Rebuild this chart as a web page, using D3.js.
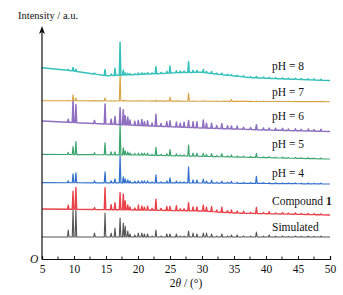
<!DOCTYPE html>
<html lang="en">
<head>
  <meta charset="UTF-8">
  <title>PXRD patterns</title>
  <script src="https://d3js.org/d3.v7.min.js"></script>
  <style>
    body { margin: 0; padding: 0; background: #fff; }
    svg text { font-family: "Liberation Serif", "DejaVu Serif", serif; fill: #111; }
  </style>
</head>
<body>
  <svg id="chart" width="343" height="295"></svg>
  <script>
    // reflection positions, 2θ (°)
    const peakPos = [9.1, 9.85, 10.3, 13.2, 14.85, 15.8, 16.4, 17.2, 17.7, 18.0, 18.4, 18.75,
      19.5, 20.05, 20.6, 21.0, 21.5, 22.2, 22.8, 23.6, 24.5, 25.0, 26.0, 26.6, 27.2, 27.9,
      28.6, 29.2, 30.2, 30.7, 31.5, 32.3, 33.1, 34.0, 34.6, 35.5, 36.5, 37.6, 38.5, 39.6,
      40.5, 41.5, 42.6, 43.5, 44.6, 45.5, 46.6, 47.5, 48.6];

    // peak heights (a.u.) for each pattern, same order as peakPos
    const hSim = [7, 27, 27, 4, 24, 4, 9, 19, 14, 11, 6, 3,
      2, 4, 4, 3, 3, 1, 7, 1, 3, 3, 3, 1, 1, 6,
      4, 3, 4, 4, 3, 1, 3, 1, 2, 2, 1, 1, 5, 0.8,
      2, 0.8, 1, 0.6, 1, 0.6, 0.8, 0.6, 0.8];
    const hComp = [4, 18, 22, 2, 22, 5, 7, 17, 16, 9, 5, 3,
      2, 5, 4, 3, 4, 2, 11, 2, 4, 4, 5, 2, 2, 8,
      4, 4, 6, 4, 5, 2, 5, 2, 3, 2, 2, 1, 6, 1,
      2, 1, 1.5, 1, 1.5, 1, 1, 1, 1];
    const hPH4 = [2, 9, 10, 2, 11, 2, 4, 27, 6, 4, 3, 2,
      1.5, 2, 2, 2, 2, 1, 8, 1, 2, 5, 2, 1, 1, 16,
      3, 3, 4, 2, 3, 1, 2, 1, 2, 1, 1, 1, 7, 0.8,
      1, 0.8, 0.8, 0.6, 0.8, 0.6, 0.8, 0.6, 0.8];
    const hPH5 = [2, 8, 13, 2, 12, 3, 3, 31, 7, 4, 3, 2,
      1.5, 2, 2, 2, 2, 1, 8, 1, 2, 6, 2, 1, 1, 11,
      3, 3, 3, 2, 3, 1, 3, 1, 2, 1, 1, 1, 4, 0.8,
      1, 0.8, 0.8, 0.6, 0.8, 0.6, 0.8, 0.6, 0.8];
    const hPH6 = [3, 23, 18, 3, 20, 5, 8, 17, 15, 9, 8, 5,
      4, 5, 6, 4, 5, 3, 12, 3, 5, 6, 5, 4, 5, 7,
      6, 6, 8, 5, 5, 3, 5, 3, 3, 3, 2, 2, 5, 2,
      2, 2, 2, 1.5, 2, 1.5, 2, 1.5, 2];
    const hPH7 = [0.5, 6, 3, 0.3, 3, 0.3, 0.5, 28, 1, 0.5, 0.3, 0.3,
      0.3, 0.5, 0.3, 0.3, 0.3, 0.3, 1, 0.3, 0.5, 4, 0.5, 0.3, 0.3, 8,
      0.5, 0.3, 0.5, 0.3, 0.3, 0.3, 0.3, 0.3, 2, 0.3, 0.3, 0.3, 0.5, 0.3,
      0.3, 0.3, 0.3, 0.3, 0.3, 0.3, 0.3, 0.3, 0.3];
    const hPH8 = [1, 3.5, 2, 1, 6, 1.5, 7, 33, 5, 2, 1.5, 1,
      1, 1.5, 1.5, 1, 1.5, 1, 7, 1, 2, 7, 2, 1.5, 1.5, 11,
      2, 2, 3, 1.5, 2, 1, 1.5, 1, 1, 1, 1, 1, 1.5, 1,
      1, 1, 1, 1, 1, 1, 1, 1, 1];

    // background level (2θ, a.u.) of each pattern
    const bgSim  = [[5, 22], [50, 22]];
    const bgComp = [[5, 50], [20, 49], [30, 48], [35, 46], [50, 44]];
    const bgPH4  = [[5, 76.3], [30, 76], [50, 75]];
    const bgPH5  = [[5, 104.7], [20, 104], [35, 102], [50, 100]];
    const bgPH6  = [[5, 138], [15, 135], [22, 133], [30, 131], [40, 129], [50, 127.5]];
    const bgPH7  = [[5, 158.3], [50, 157.3]];
    const bgPH8  = [[5, 191.3], [10, 188], [15, 183.3], [20, 184.5], [27, 186.5], [30, 186.7],
      [32.5, 184.7], [37.8, 181.3], [43, 180], [50, 178.5]];

    const seriesNames = ["Simulated", "Compound 1", "pH = 4", "pH = 5", "pH = 6", "pH = 7", "pH = 8"];
    const xTicks = [5, 10, 15, 20, 25, 30, 35, 40, 45, 50];

    const series = [
      { name: seriesNames[0], h: hSim,  bg: bgSim,  color: "#545454", width: 1.1, labelY: 231 },
      { name: seriesNames[1], h: hComp, bg: bgComp, color: "#e8434a", width: 1.4, labelY: 205 },
      { name: seriesNames[2], h: hPH4,  bg: bgPH4,  color: "#3170cc", width: 1.2, labelY: 177 },
      { name: seriesNames[3], h: hPH5,  bg: bgPH5,  color: "#3ba56f", width: 1.2, labelY: 148 },
      { name: seriesNames[4], h: hPH6,  bg: bgPH6,  color: "#8f70c0", width: 1.5, labelY: 120 },
      { name: seriesNames[5], h: hPH7,  bg: bgPH7,  color: "#d8a243", width: 1.1, labelY: 96 },
      { name: seriesNames[6], h: hPH8,  bg: bgPH8,  color: "#36c2bb", width: 1.5, labelY: 70 }
    ];

    const svg = d3.select("#chart");
    const x = d3.scaleLinear().domain([5, 50]).range([42, 330]);
    const y = d3.scaleLinear().domain([0, 232]).range([259, 27]);

    const line = d3.line().x(d => x(d[0])).y(d => y(d[1]));
    const hw = 0.12;

    series.forEach(s => {
      const base = d3.scaleLinear().domain(s.bg.map(d => d[0])).range(s.bg.map(d => d[1]));
      const pts = s.bg.map(d => [d[0], d[1]]);
      peakPos.forEach((p, i) => {
        const h = s.h[i];
        if (!h) return;
        pts.push([p - hw, base(p - hw)], [p, base(p) + h], [p + hw, base(p + hw)]);
      });
      pts.sort((a, b) => a[0] - b[0]);
      svg.append("path")
        .attr("d", line(pts))
        .attr("fill", "none")
        .attr("stroke", s.color)
        .attr("stroke-width", s.width)
        .attr("stroke-linejoin", "round");
    });

    // series labels
    series.forEach(s => {
      const t = svg.append("text")
        .attr("x", 272)
        .attr("y", s.labelY)
        .attr("font-size", 11.5);
      if (s.name === "Compound 1") {
        t.append("tspan").text("Compound ");
        t.append("tspan").attr("font-weight", "bold").text("1");
      } else {
        t.text(s.name);
      }
    });

    // x axis
    const xAxis = d3.axisBottom(x).tickValues(xTicks).tickSize(-3).tickPadding(6);
    const gx = svg.append("g").attr("transform", "translate(0,259)").call(xAxis);
    gx.select(".domain").attr("stroke", "#111").attr("stroke-width", 1.2);
    gx.selectAll(".tick line").attr("stroke", "#111");
    gx.selectAll(".tick text").attr("font-size", 11.5).attr("font-family", "Liberation Serif, serif").attr("fill", "#111");
    gx.selectAll(".minor")
      .data(xTicks.slice(0, -1).map(d => d + 2.5))
      .join("line")
      .attr("x1", d => x(d)).attr("x2", d => x(d))
      .attr("y1", 0).attr("y2", -2.5)
      .attr("stroke", "#111");

    // y axis with arrow
    svg.append("line")
      .attr("x1", 42).attr("x2", 42)
      .attr("y1", 259.5).attr("y2", 30)
      .attr("stroke", "#111").attr("stroke-width", 1.2);
    svg.append("path")
      .attr("d", "M42,26 L39,34 L42,32 L45,34 Z")
      .attr("fill", "#111");

    svg.append("text").attr("x", 18).attr("y", 19).attr("font-size", 10.5).text("Intensity / a.u.");
    svg.append("text").attr("x", 30).attr("y", 263).attr("font-size", 11.5).attr("font-style", "italic").text("O");

    const xl = svg.append("text").attr("x", 186).attr("y", 287).attr("font-size", 11.5).attr("text-anchor", "middle");
    xl.append("tspan").text("2");
    xl.append("tspan").attr("font-style", "italic").text("θ");
    xl.append("tspan").text(" / (°)");
  </script>
</body>
</html>
